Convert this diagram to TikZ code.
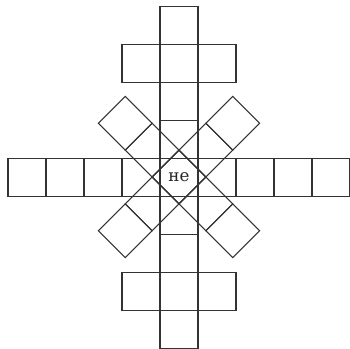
\documentclass[tikz,border=0pt]{standalone}
\usepackage{fontspec}
\setmainfont{DejaVu Serif}
\begin{document}
\begin{tikzpicture}[cell/.style={draw=black!80, line width=0.8pt}]
    \useasboundingbox (-4.71,-4.5) rectangle (4.5,4.66);

    % Horizontal row of nine cells
    \foreach \x in {-4,...,4}
        \draw[cell] (\x-0.5,-0.5) rectangle (\x+0.5,0.5);

    % Vertical column of nine cells
    \foreach \y in {-4,...,4}
        \draw[cell] (-0.5,\y-0.5) rectangle (0.5,\y+0.5);

    % Short bars above and below the centre
    \foreach \x in {-1,0,1} {
        \draw[cell] (\x-0.5,2.5) rectangle (\x+0.5,3.5);
        \draw[cell] (\x-0.5,-3.5) rectangle (\x+0.5,-2.5);
    }

    % The two diagonal strips
    \foreach \a in {45,-45}
        \foreach \x in {-2,...,2}
            \draw[cell, rotate=\a] (\x-0.5,-0.5) rectangle (\x+0.5,0.5);

    % Centre syllable
    \node[text=black!85] (he) at (0,0) {\fontsize{12.5}{15}\selectfont не};
\end{tikzpicture}
\end{document}
